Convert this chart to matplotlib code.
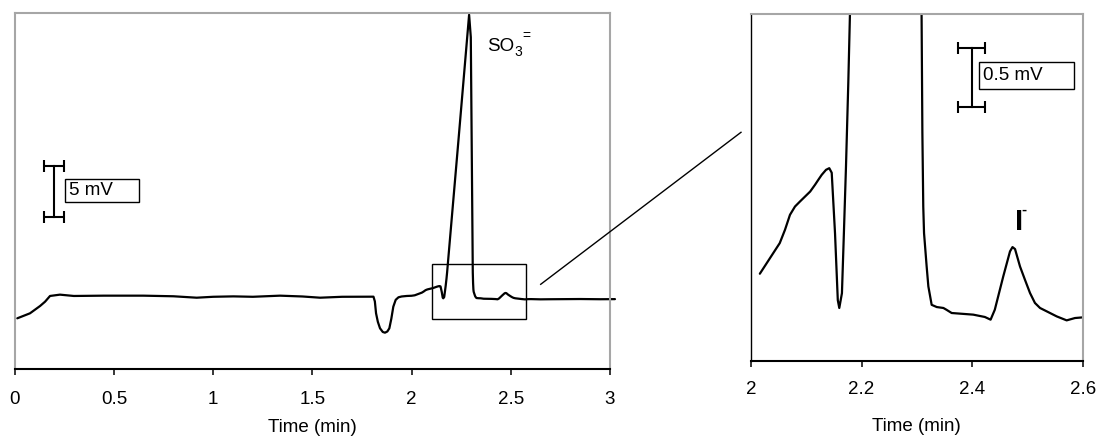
import numpy as np
import matplotlib.pyplot as plt
from matplotlib.patches import Rectangle
from matplotlib.lines import Line2D

plt.rcParams['font.family'] = ['Liberation Sans', 'DejaVu Sans']

# chromatogram trace (time in min, signal in mV)
time = [0.013, 0.077, 0.128, 0.153, 0.178, 0.228, 0.298, 0.45, 0.648, 0.80,
        0.917, 1.0, 1.102, 1.2, 1.337, 1.45, 1.539, 1.65, 1.808, 1.815,
        1.821, 1.83, 1.841, 1.855, 1.866, 1.878, 1.888, 1.898, 1.908, 1.92,
        1.934, 1.95, 1.976, 2.0, 2.016, 2.0344, 2.052, 2.0615, 2.0705, 2.0796,
        2.0886, 2.107, 2.1158, 2.1217, 2.1279, 2.1357, 2.1416, 2.146, 2.152, 2.157,
        2.1597, 2.1645, 2.168, 2.1718, 2.176, 2.179, 2.235, 2.29, 2.2985, 2.3085,
        2.31, 2.3116, 2.313, 2.3177, 2.3208, 2.3268, 2.336, 2.348, 2.3535, 2.363,
        2.402, 2.423, 2.4334, 2.441, 2.4563, 2.4685, 2.473, 2.4776, 2.4866, 2.4955,
        2.5047, 2.5136, 2.5228, 2.535, 2.553, 2.571, 2.586, 2.601, 2.65, 2.70,
        2.85, 2.95, 3.025]
signal = [4.94, 5.43, 6.15, 6.57, 7.13, 7.26, 7.13, 7.16, 7.16, 7.10,
          6.96, 7.05, 7.09, 7.05, 7.16, 7.08, 6.96, 7.05, 7.06, 6.6,
          5.43, 4.6, 3.96, 3.6, 3.53, 3.65, 3.96, 4.9, 6.08, 6.75,
          7.0, 7.08, 7.13, 7.15, 7.196, 7.33, 7.458, 7.572, 7.70, 7.771,
          7.814, 7.899, 7.957, 7.999, 8.042, 8.085, 8.099, 8.06, 7.54, 6.97,
          6.903, 7.03, 7.54, 8.11, 8.83, 9.42, 22.1, 34.7, 32.5, 9.45,
          8.40, 7.77, 7.544, 7.26, 7.088, 6.93, 6.911, 6.903, 6.888, 6.860,
          6.846, 6.826, 6.803, 6.888, 7.173, 7.387, 7.424, 7.407, 7.258, 7.145,
          7.031, 6.946, 6.903, 6.874, 6.831, 6.797, 6.817, 6.823, 6.80, 6.81,
          6.83, 6.81, 6.82]

left_ticks = [0, 0.5, 1, 1.5, 2, 2.5, 3]
left_labels = ['0', '0.5', '1', '1.5', '2', '2.5', '3']
right_ticks = [2, 2.2, 2.4, 2.6]
right_labels = ['2', '2.2', '2.4', '2.6']

W, H = 1098, 438
GRAY = '#a6a6a6'
FS = 13.5


def fig_xy(x, y):
    # pixel position (from top-left) -> figure fraction
    return x / W, 1 - y / H


def style_axes(ax, left_color, left_lw):
    for side in ['top', 'right']:
        ax.spines[side].set_color(GRAY)
        ax.spines[side].set_linewidth(1.5)
    ax.spines['left'].set_color(left_color)
    ax.spines['left'].set_linewidth(left_lw)
    ax.spines['bottom'].set_color('black')
    ax.spines['bottom'].set_linewidth(1.5)
    ax.set_yticks([])
    ax.tick_params(axis='x', direction='out', length=4.3, width=1.1,
                   pad=11.5, labelsize=FS)


def scale_bar(ax, x, y0, y1, half):
    ax.plot([x, x], [y0, y1], color='black', lw=1.5)
    ax.errorbar([x, x], [y0, y1], xerr=half, fmt='none', ecolor='black',
                elinewidth=1.5, capsize=4.3, capthick=1.5)


fig = plt.figure(figsize=(W / 100, H / 100), dpi=100)
ax1 = fig.add_axes([14.7 / W, 1 - 368.7 / H, 595.3 / W, 356 / H])
ax2 = fig.add_axes([751 / W, 1 - 360.7 / H, 331.7 / W, 346.7 / H])

t = np.array(time)
s = np.array(signal)

# full run
ax1.plot(t, s, color='black', lw=1.6, solid_joinstyle='round',
         solid_capstyle='round', clip_on=False)
ax1.set_xlim(0, 3)
ax1.set_ylim(0, 34.9)
ax1.set_xticks(left_ticks)
ax1.set_xticklabels(left_labels)
style_axes(ax1, GRAY, 1.5)
ax1.set_xlabel('Time (min)', fontsize=FS, va='top')
ax1.xaxis.set_label_coords(0.5, -0.141)

ax1.add_patch(Rectangle((2.105, 4.84), 2.576 - 2.105, 10.26 - 4.84,
                        fill=False, ec='black', lw=1))
scale_bar(ax1, 0.198, 14.85, 19.85, 0.05)
ax1.add_patch(Rectangle((0.252, 16.32), 0.376, 2.31, fc='white', ec='black', lw=1))
ax1.text(0.274, 17.475, '5 mV', va='center', ha='left', fontsize=FS)

# zoomed part
zoom = t >= 2.016
ax2.plot(t[zoom], s[zoom], color='black', lw=1.6, solid_joinstyle='round',
         solid_capstyle='round')
ax2.set_xlim(2, 2.6)
ax2.set_ylim(6.452, 9.418)
ax2.set_xticks(right_ticks)
ax2.set_xticklabels(right_labels)
style_axes(ax2, 'black', 1.0)
ax2.tick_params(axis='x', pad=10.5)
ax2.set_xlabel('Time (min)', fontsize=FS, va='top')
ax2.xaxis.set_label_coords(0.5, -0.1655)

scale_bar(ax2, 2.399, 8.625, 9.125, 0.024)
ax2.add_patch(Rectangle((2.4124, 8.775), 2.5843 - 2.4124, 9.011 - 8.775,
                        fc='white', ec='black', lw=1))
ax2.text(2.419, 8.893, '0.5 mV', va='center', ha='left', fontsize=FS)

# peak labels
fig.text(*fig_xy(487, 51), 'SO', fontsize=FS, va='baseline', ha='left')
fig.text(*fig_xy(514.5, 56), '3', fontsize=10, va='baseline', ha='left')
fig.text(*fig_xy(522, 36.5), '=', fontsize=10, va='center', ha='left')
fig.text(*fig_xy(1015, 229.5), 'I', fontsize=21, fontweight='bold',
         va='baseline', ha='left')
fig.text(*fig_xy(1021.5, 209.5), '-', fontsize=11, fontweight='bold',
         va='center', ha='left')

# line from the boxed region towards the zoomed panel
x0, y0 = fig_xy(540.7, 284.3)
x1, y1 = fig_xy(741, 132.3)
fig.add_artist(Line2D([x0, x1], [y0, y1], transform=fig.transFigure,
                      color='black', lw=1))

plt.savefig('out.png', dpi=100)
